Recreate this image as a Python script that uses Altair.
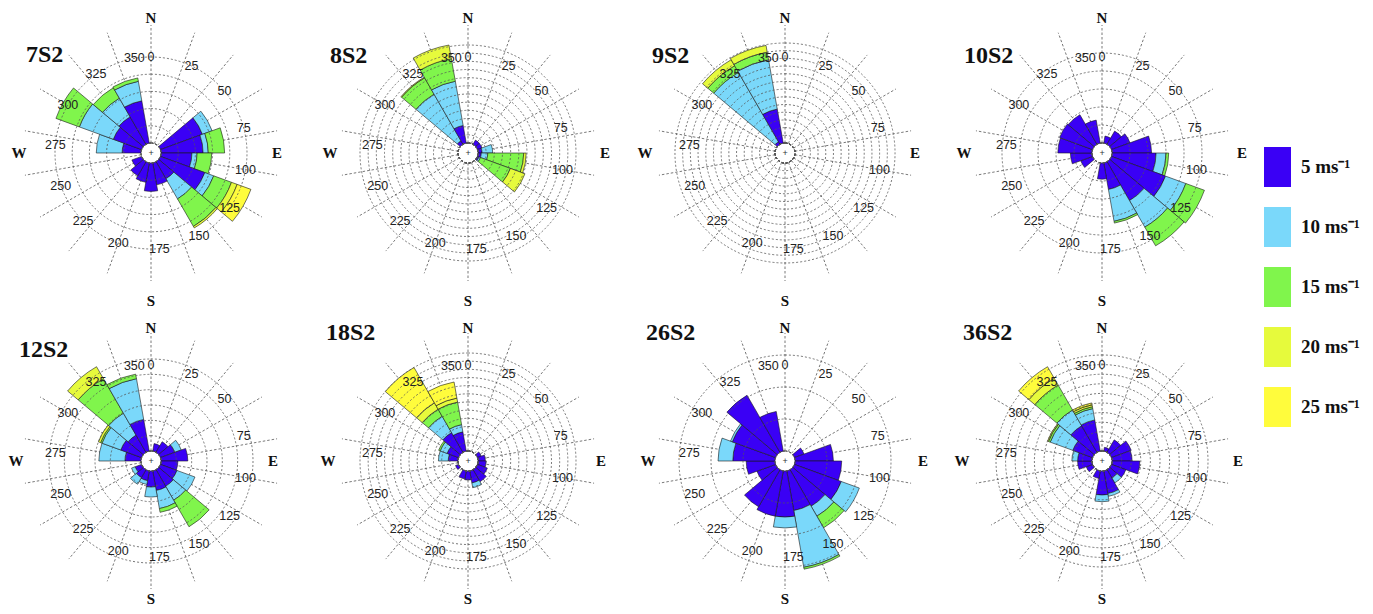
import math
import altair as alt
import pandas as pd

# ---------------- data ----------------
SPEEDS = ["5 ms⁻¹", "10 ms⁻¹", "15 ms⁻¹", "20 ms⁻¹", "25 ms⁻¹"]
SPEED_COLORS = ["#3a00f5", "#7ad8fa", "#80f54c", "#e6fa3c", "#fffc3c"]
DIRECTIONS = list(range(0, 360, 20))      # sector centres (deg)
SECTOR_WIDTH = 20
ANGLE_TICKS = list(range(0, 360, 25))
COMPASS_LETTERS = ["N", "E", "S", "W"]
COMPASS_DEG = [0, 90, 180, 270]

# cumulative frequency (%) per sector, by speed class (5,10,15,20,25 m/s)
ROSE_7S2 = {
    60: [5.2, 6.4], 80: [4.9, 5.5, 7.4], 100: [3.6, 4.2, 5.9],
    120: [5.5, 6.6, 8.8, 9.5, 11.2], 140: [2.3, 5.0, 8.7, 8.9],
    160: [2.6], 180: [3.3], 200: [2.3], 220: [1.9], 240: [1.2],
    280: [2.2, 5.2], 300: [3.5, 7.7, 10.6], 320: [3.7, 6.2, 7.6], 340: [5.0, 7.3, 7.7],
}
ROSE_8S2 = {
    40: [0.6], 60: [0.6], 80: [0.5, 1.8], 100: [0.4, 1.2, 5.6, 5.9],
    120: [0.2, 0.4, 4.3, 6.2], 320: [0.5, 7.1, 9.4, 9.5], 340: [2.2, 7.7, 10.5, 12.2],
}
ROSE_9S2 = {
    320: [0.4, 10.8, 11.8, 12.7], 340: [4.5, 11.0, 12.0, 12.9],
}
ROSE_10S2 = {
    20: [0.8], 40: [1.7], 60: [2.2], 80: [4.4], 100: [4.9, 6.0, 6.3],
    120: [6.4, 8.8, 11.0], 140: [5.0, 8.4, 10.8], 160: [3.0, 6.6, 6.8],
    180: [1.8], 240: [1.4], 260: [2.4], 280: [3.8], 300: [3.9], 320: [3.8], 340: [2.6],
}
ROSE_12S2 = {
    20: [1.0], 40: [1.6], 60: [2.0, 2.9], 80: [3.5], 100: [2.2], 120: [2.3, 4.8],
    140: [2.5, 4.6, 8.6], 160: [2.6, 5.0, 5.5], 180: [2.1, 3.4], 200: [1.3, 1.8],
    220: [1.2, 2.2], 240: [0.9, 1.4], 280: [2.1, 5.5], 300: [2.9, 5.5, 5.7, 6.0],
    320: [2.6, 5.9, 11.1, 12.9], 340: [4.2, 9.6, 10.2],
}
ROSE_18S2 = {
    60: [0.5], 80: [0.9], 100: [1.0], 120: [1.3], 140: [1.7], 160: [1.5, 2.1],
    180: [1.1], 200: [1.0], 240: [0.4], 280: [1.2, 2.4], 300: [1.5, 2.4, 2.6],
    320: [2.8, 5.1, 6.1, 7.0, 12.0], 340: [2.4, 3.3, 6.1, 6.6, 8.6],
}
ROSE_26S2 = {
    60: [1.6], 80: [6.0], 100: [7.3], 120: [7.8, 10.8], 140: [6.6, 8.4, 10.5],
    160: [6.3, 15.3, 15.6], 180: [7.2, 8.9], 200: [7.2], 220: [6.7], 240: [3.1],
    260: [4.5], 280: [6.6, 8.9], 300: [7.2, 7.5], 320: [10.3], 340: [6.3],
}
ROSE_36S2 = {
    20: [0.4], 40: [1.5], 60: [2.2], 80: [2.1], 100: [2.9], 120: [1.6],
    140: [1.0, 1.6], 160: [2.4, 2.7], 180: [2.5, 3.2], 200: [0.8], 240: [0.7],
    260: [1.5], 280: [1.5, 2.1], 300: [2.2, 4.7, 4.9, 5.0],
    320: [3.2, 5.1, 8.1, 8.9, 10.3], 340: [3.3, 4.5, 4.7, 4.9, 5.1],
}

STATIONS = ["7S2", "8S2", "9S2", "10S2", "12S2", "18S2", "26S2", "36S2"]
ROSES = [ROSE_7S2, ROSE_8S2, ROSE_9S2, ROSE_10S2, ROSE_12S2, ROSE_18S2, ROSE_26S2, ROSE_36S2]
RING_STEP = [2, 1, 1, 2, 2, 1, 5, 1]
RING_COUNT = [5, 12, 13, 5, 6, 12, 3, 10]

# ---------------- layout (pixels) ----------------
PW, PH = 284, 290
CX, CY = PW / 2, PH / 2
HOLE = 10
SPOKE_R = 128
LABEL_R = 96
OUTER_RING_PX = [96, 108, 110, 100, 102, 108, 106, 106]
TITLE_OFFSET = [(-125, -98), (-138, -97), (-133, -97), (-138, -97),
                (-132, -111), (-142, -128), (-139, -128), (-139, -128)]
N_R = [135, 135, 135, 135, 133, 133, 133, 133]
S_R = [148, 148, 148, 148, 138, 138, 138, 138]
E_R = [126, 137, 130, 140, 122, 133, 138, 136]
W_R = [132, 138, 140, 138, 135, 140, 137, 140]

theta_scale = alt.Scale(domain=[0, 360], range=[0, 2 * math.pi])
color_scale = alt.Scale(domain=SPEEDS, range=SPEED_COLORS)


def rose_table(rose):
    rows = []
    for d, cum in rose.items():
        prev = 0.0
        for k, c in enumerate(cum):
            if c > prev:
                rows.append({"dir": d, "a0": d - SECTOR_WIDTH / 2, "a1": d + SECTOR_WIDTH / 2,
                             "r0": prev, "r1": c, "speed": SPEEDS[k]})
            prev = max(prev, c)
    return pd.DataFrame(rows)


def panel(i):
    vmax = RING_STEP[i] * RING_COUNT[i]
    rscale = alt.Scale(type="linear", domain=[0, vmax], range=[HOLE, OUTER_RING_PX[i]],
                       zero=False, nice=False)

    spoke_df = pd.DataFrame({"dir": DIRECTIONS})
    f_in = HOLE / SPOKE_R
    spokes = alt.Chart(spoke_df).transform_calculate(
        x0=f"sin(datum.dir*PI/180)*{f_in}", y0=f"cos(datum.dir*PI/180)*{f_in}",
        x1="sin(datum.dir*PI/180)", y1="cos(datum.dir*PI/180)",
    ).mark_rule(color="#555555", strokeWidth=0.8, strokeDash=[2.5, 2]).encode(
        x=alt.X("x0:Q", scale=alt.Scale(domain=[-1, 1], range=[CX - SPOKE_R, CX + SPOKE_R], zero=False, nice=False), axis=None),
        x2="x1:Q",
        y=alt.Y("y0:Q", scale=alt.Scale(domain=[-1, 1], range=[CY + SPOKE_R, CY - SPOKE_R], zero=False, nice=False), axis=None),
        y2="y1:Q",
    )

    bars = alt.Chart(rose_table(ROSES[i])).mark_arc(stroke="#1a1a1a", strokeWidth=0.6).encode(
        theta=alt.Theta("a0:Q", scale=theta_scale, stack=False),
        theta2="a1:Q",
        radius=alt.Radius("r1:Q", scale=rscale, stack=False),
        radius2="r0:Q",
        color=alt.Color("speed:N", scale=color_scale, legend=None),
    )

    ring_df = pd.DataFrame({"r": [RING_STEP[i] * k for k in range(1, RING_COUNT[i] + 1)]})
    rings = alt.Chart(ring_df).mark_arc(fillOpacity=0, stroke="#555555", strokeWidth=0.8,
                                        strokeDash=[2, 2]).encode(
        theta=alt.value(0), theta2=alt.value(2 * math.pi),
        radius=alt.Radius("r:Q", scale=rscale, stack=False),
    )

    lab_df = pd.DataFrame({"deg": ANGLE_TICKS, "txt": [str(v) for v in ANGLE_TICKS]})
    labels = alt.Chart(lab_df).mark_text(font="Liberation Sans", fontSize=12.5, color="#222222").encode(
        theta=alt.Theta("deg:Q", scale=theta_scale, stack=False),
        radius=alt.value(LABEL_R),
        text="txt:N",
    )

    comp_r = {"N": N_R[i], "E": E_R[i], "S": S_R[i], "W": W_R[i]}
    compass = []
    for letter, deg in zip(COMPASS_LETTERS, COMPASS_DEG):
        compass.append(
            alt.Chart(pd.DataFrame({"deg": [deg], "txt": [letter]})).mark_text(
                font="Liberation Serif", fontWeight="bold", fontSize=15, color="#111111").encode(
                theta=alt.Theta("deg:Q", scale=theta_scale, stack=False),
                radius=alt.value(comp_r[letter]),
                text="txt:N",
            )
        )

    dx, dy = TITLE_OFFSET[i]
    title = alt.Chart(pd.DataFrame({"t": [STATIONS[i]]})).mark_text(
        align="left", baseline="middle", font="Liberation Serif", fontWeight="bold",
        fontSize=24, color="#111111").encode(
        text="t:N", x=alt.value(CX + dx), y=alt.value(CY + dy))

    centre = alt.Chart(pd.DataFrame({"c": [0]})).mark_text(
        text="+", fontSize=9, color="#333333").encode(theta=alt.value(0), radius=alt.value(0))

    return alt.layer(spokes, bars, rings, labels, *compass, title, centre).properties(
        width=PW, height=PH)


panels = [panel(i) for i in range(8)]

leg_df = pd.DataFrame({"speed": SPEEDS})
leg_y = alt.Scale(domain=SPEEDS, range=[129, 429], paddingInner=1 / 3, paddingOuter=1 / 6)
swatch = alt.Chart(leg_df).mark_rect().encode(
    y=alt.Y("speed:N", scale=leg_y, axis=None, sort=SPEEDS),
    x=alt.value(-13), x2=alt.value(14),
    color=alt.Color("speed:N", scale=color_scale, legend=None),
)
leg_text = alt.Chart(leg_df).mark_text(
    align="left", baseline="middle", font="Liberation Serif", fontWeight="bold",
    fontSize=19, color="#111111").encode(
    y=alt.Y("speed:N", scale=leg_y, axis=None, sort=SPEEDS),
    x=alt.value(24), text="speed:N",
)
legend = alt.layer(swatch, leg_text).properties(width=85, height=PH)

chart = alt.concat(
    panels[0], panels[1], panels[2], panels[3], legend,
    panels[4], panels[5], panels[6], panels[7],
    columns=5, spacing={"row": 18, "column": 33}, bounds="flush",
).properties(padding=0).configure_view(strokeWidth=0)

chart.save("out.html", embed_options={"renderer": "svg", "actions": False})
